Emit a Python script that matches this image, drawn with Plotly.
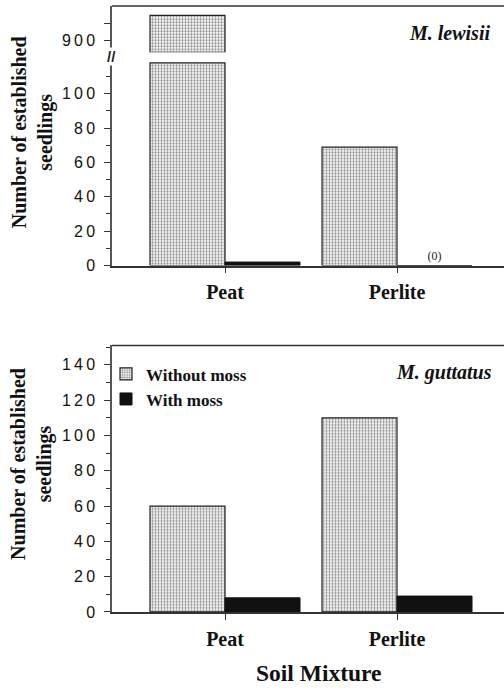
import plotly.graph_objects as go

# ---- data ----
soil = ["Peat", "Perlite"]
lewisii_without = [915, 69]
lewisii_with = [2, 0]
guttatus_without = [60, 110]
guttatus_with = [8, 9]
top_ticks = [0, 20, 40, 60, 80, 100]
bottom_ticks = [0, 20, 40, 60, 80, 100, 120, 140]

# axis break for M. lewisii panel
BREAK_LOW = 118
BREAK_HIGH = 893

W, H = 504, 693
def py(p):  # pixel from top -> paper
    return 1 - p / H

SERIF = "Liberation Serif"
SANS = "Liberation Sans"
TS = "\u2009"

def spaced(v):
    return TS.join(str(v))

stip = dict(shape=".", fgcolor="#222", bgcolor="white", size=3, solidity=0.45)
bar_line = dict(color="#222", width=1.2)

fig = go.Figure()

# top panel lower segment
low_vals = [min(v, BREAK_LOW) for v in lewisii_without]
fig.add_trace(go.Bar(x=soil, y=low_vals, xaxis="x", yaxis="y",
                     marker=dict(color="white", pattern=stip, line=bar_line),
                     showlegend=False, offsetgroup="a"))
fig.add_trace(go.Bar(x=soil, y=lewisii_with, xaxis="x", yaxis="y",
                     marker=dict(color="#111", line=dict(color="#111", width=1)),
                     text=["" if v else "(0)" for v in lewisii_with], textposition="outside",
                     textfont=dict(family=SERIF, size=12, color="#222"),
                     showlegend=False, offsetgroup="b"))
# top panel upper segment
up_vals = [v - BREAK_HIGH if v > BREAK_HIGH else None for v in lewisii_without]
fig.add_trace(go.Bar(x=soil, y=up_vals, base=BREAK_HIGH, xaxis="x", yaxis="y2",
                     marker=dict(color="white", pattern=stip, line=bar_line),
                     showlegend=False, offsetgroup="a"))
fig.add_trace(go.Bar(x=soil, y=[None, None], xaxis="x", yaxis="y2",
                     marker=dict(color="#111"), showlegend=False, offsetgroup="b"))

# bottom panel
fig.add_trace(go.Bar(x=soil, y=guttatus_without, xaxis="x2", yaxis="y3", name="Without moss",
                     marker=dict(color="white", pattern=stip, line=bar_line),
                     offsetgroup="a"))
fig.add_trace(go.Bar(x=soil, y=guttatus_with, xaxis="x2", yaxis="y3", name="With moss",
                     marker=dict(color="#111", line=dict(color="#111", width=1)),
                     offsetgroup="b"))

xr = [-0.657, 1.622]
xcommon = dict(type="category", range=xr, domain=[112 / W, 1], showline=True, linecolor="#333",
               linewidth=1.5, ticks="outside", ticklen=6, tickcolor="#333",
               tickfont=dict(family=SERIF, size=20, color="#111", weight="bold"),
               showgrid=False, zeroline=False, ticklabelstandoff=2)
ycommon = dict(showline=True, linecolor="#555", linewidth=1.5, ticks="outside", ticklen=6,
               tickcolor="#333", tickfont=dict(family=SANS, size=16, color="#111"),
               showgrid=False, zeroline=False, ticklabelstandoff=6,
               minor=dict(ticks="outside", ticklen=4, dtick=10, tickcolor="#333", showgrid=False))

fig.update_layout(
    width=W, height=H, margin=dict(l=0, r=0, t=0, b=0),
    paper_bgcolor="white", plot_bgcolor="white",
    barmode="group", bargap=0.128, bargroupgap=0,
    xaxis=dict(anchor="y", **xcommon),
    xaxis2=dict(anchor="y3", **xcommon),
    yaxis=dict(anchor="x", domain=[py(269), py(62)], range=[0, BREAK_LOW + 1],
               tickvals=top_ticks, ticktext=[spaced(v) for v in top_ticks], **ycommon),
    yaxis2=dict(anchor="x", domain=[py(53), py(6)], range=[BREAK_HIGH, 920.6],
                tickvals=[900, 910], ticktext=[spaced(900), ""],
                **{k: v for k, v in ycommon.items() if k != "minor"}),
    yaxis3=dict(anchor="x2", domain=[py(620), py(350)], range=[0, 151],
                tickvals=bottom_ticks, ticktext=[spaced(v) for v in bottom_ticks], **ycommon),
    legend=dict(x=106 / W, y=py(361), xanchor="left", yanchor="top",
                font=dict(family=SERIF, size=17, color="#111", weight="bold"),
                bgcolor="rgba(0,0,0,0)", tracegroupgap=0, itemwidth=30),
    shapes=[
        dict(type="line", xref="x domain", yref="y2 domain", x0=0, x1=1, y0=1, y1=1,
             line=dict(color="#333", width=1.5)),
        dict(type="line", xref="x2 domain", yref="y3 domain", x0=0, x1=1, y0=1, y1=1,
             line=dict(color="#333", width=1.5)),
    ],
    annotations=[
        dict(text="<b>Number of established<br>seedlings</b>", textangle=-90, xref="paper", yref="paper",
             x=32 / W, y=py(134), xanchor="center", yanchor="middle", showarrow=False,
             font=dict(family=SERIF, size=20, color="#111")),
        dict(text="<b>Number of established<br>seedlings</b>", textangle=-90, xref="paper", yref="paper",
             x=32 / W, y=py(470), xanchor="center", yanchor="middle", showarrow=False,
             font=dict(family=SERIF, size=20, color="#111")),
        dict(text="<b><i>M. lewisii</i></b>", xref="paper", yref="paper", x=492 / W, y=py(33),
             xanchor="right", yanchor="middle", showarrow=False,
             font=dict(family=SERIF, size=20, color="#111")),
        dict(text="<b><i>M. guttatus</i></b>", xref="paper", yref="paper", x=494 / W, y=py(377),
             xanchor="right", yanchor="middle", showarrow=False,
             font=dict(family=SERIF, size=20, color="#111")),
        dict(text="<b>Soil Mixture</b>", xref="paper", yref="paper", x=319 / W, y=py(682),
             xanchor="center", yanchor="middle", showarrow=False,
             font=dict(family=SERIF, size=23.5, color="#111")),
        dict(text="<b>//</b>", xref="paper", yref="paper", x=111 / W, y=py(57), showarrow=False,
             xanchor="center", yanchor="middle",
             font=dict(family=SANS, size=15, color="#222"), bgcolor="white", borderpad=0),
    ],
)

fig.write_html("out.html", config={"displayModeBar": False},
               post_script="document.body.style.margin='0';document.body.style.overflow='hidden';")
